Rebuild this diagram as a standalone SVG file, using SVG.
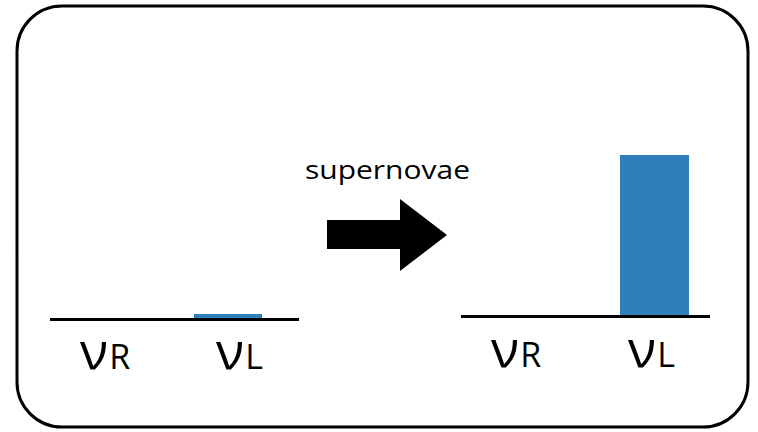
<svg xmlns="http://www.w3.org/2000/svg" width="758" height="432" viewBox="0 0 758 432">
<style>
.axis{stroke:#000;stroke-width:3;fill:none}
.bar{fill:#2f80ba}
.nu{font-family:"Open Sans","DejaVu Sans",sans-serif;font-size:52px;fill:#000}
.sub{font-family:"Open Sans","DejaVu Sans",sans-serif;font-size:34px;fill:#000}
.lbl{font-family:"Open Sans","DejaVu Sans",sans-serif;font-size:26px;fill:#000}
</style>
<rect width="758" height="432" fill="#fff"/>
<rect id="frame" x="17" y="6" width="731" height="421" rx="45" ry="45" fill="none" stroke="#000" stroke-width="3"/>
<g id="before">
<rect class="bar" x="194" y="314" width="68" height="5"/>
<line class="axis" x1="50" y1="319.5" x2="299" y2="319.5"/>
<text x="80" y="369"><tspan class="nu">ν</tspan><tspan class="sub" dx="1">R</tspan></text>
<text x="216" y="369"><tspan class="nu">ν</tspan><tspan class="sub" dx="1">L</tspan></text>
</g>
<g id="transition">
<text class="lbl" x="305" y="179" textLength="165" lengthAdjust="spacingAndGlyphs">supernovae</text>
<polygon points="327,220 400,220 400,199 447,235 400,271 400,249 327,249" fill="#000"/>
</g>
<g id="after">
<rect class="bar" x="620" y="155" width="69" height="161"/>
<line class="axis" x1="461" y1="316.5" x2="710" y2="316.5"/>
<text x="491" y="367"><tspan class="nu">ν</tspan><tspan class="sub" dx="1">R</tspan></text>
<text x="628" y="367"><tspan class="nu">ν</tspan><tspan class="sub" dx="1">L</tspan></text>
</g>
</svg>
